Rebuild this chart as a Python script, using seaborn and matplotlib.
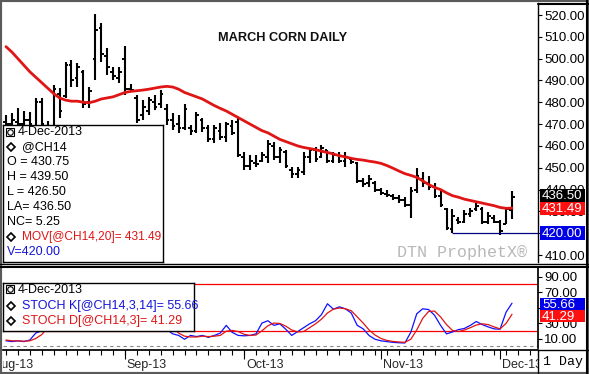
import matplotlib
matplotlib.use("Agg")
import matplotlib.pyplot as plt
import pandas as pd
import seaborn as sns
from matplotlib.lines import Line2D
from matplotlib.patches import Rectangle

# March corn (@CH14) daily bars, 5-Aug-2013 .. 4-Dec-2013
opens = [471, 470, 471, 470, 472, 469, 480, 469, 467, 484,
         483, 497, 491, 494, 480, 500, 514, 501, 494, 491,
         500, 486, 482, 474, 476, 480, 479, 477, 472, 470,
         468, 468, 467, 472, 468, 463, 467, 464, 469, 471,
         455, 451, 452, 453, 455, 460, 455, 457, 449, 447,
         448, 455, 458, 455, 458, 453, 456, 453, 454, 452,
         444, 443, 443, 440, 438, 437, 436, 435, 433, 440,
         445, 443, 441, 437, 431, 422, 426, 425, 429, 431,
         431, 425, 427, 425, 424, 430.75]
highs = [474, 475, 477.5, 476, 475.5, 482, 482, 471.5, 488, 486.5,
         498.5, 499.5, 498, 495, 487, 520.5, 516.5, 505, 496, 496,
         506, 488.5, 483.5, 481, 482.5, 483.5, 485.5, 479, 475, 474,
         479, 469.5, 475.5, 473, 469.5, 469.5, 470.5, 471, 472, 473,
         457, 456, 456, 457, 462.5, 462, 459.5, 458, 450.5, 450.5,
         457, 459, 459.5, 460.5, 458, 457, 457, 457, 454.5, 452.5,
         445.5, 446.5, 444, 440.5, 440, 438, 437.5, 436.5, 441, 450,
         448, 446, 443, 440, 431.5, 431, 427.5, 430.5, 431.5, 434,
         432, 429.5, 428.5, 426, 432, 439.5]
lows = [467, 466, 467, 467.5, 466, 467, 468, 464, 466.5, 473,
        482, 487, 487, 477.5, 477.5, 490, 498.5, 492.5, 490, 489,
        483.5, 484.5, 470.5, 472, 474, 476.5, 477.5, 469.5, 467.5, 466,
        467.5, 465, 466, 466.5, 462, 461.5, 462.5, 462, 465, 455,
        449, 449, 450.5, 452.5, 452, 453.5, 452, 450, 445.5, 445.5,
        446.5, 452, 452.5, 454.5, 452, 452, 452, 450.5, 451.5, 443,
        441, 441, 439, 437.5, 436.5, 435, 434, 432, 427, 438.5,
        441, 440, 436, 432, 421.5, 420, 424, 424.5, 427.5, 430,
        424, 424, 424.5, 419, 424, 426.5]
closes = [470, 472, 470, 472, 470, 480, 470, 467, 486, 476,
          497, 490, 496, 479, 485, 513, 502, 496, 492, 494,
          486, 485.5, 472, 478, 481, 478, 484, 472, 469, 468,
          477, 467, 474, 468, 463, 468, 464, 470, 466, 456,
          451, 453, 451.5, 456, 461, 455, 458, 451, 447, 449,
          455, 458, 454, 459, 453, 456, 453, 455, 452.5, 444,
          442.5, 445, 440, 438.5, 437.5, 436, 435, 433, 439.5, 446,
          443, 441, 437, 433, 422.5, 428, 425, 429, 430, 432.5,
          425, 428, 425, 421, 431, 436.5]
ma20 = [505.5, 503, 500, 497, 494, 491.5, 489, 486.5, 484, 482,
        481, 480.5, 480.5, 480, 479.8, 480.5, 481.5, 482, 482.5, 483.5,
        484.5, 485, 485.3, 485.6, 486, 486.5, 487, 487.3, 487, 486,
        484.5, 483.5, 482.5, 481.5, 480, 478.5, 477.2, 476, 474.5, 473,
        471.5, 470, 468.5, 467, 466, 464.5, 463, 462, 461, 460,
        459.3, 458.8, 458.3, 457.6, 457, 456.3, 455.5, 455, 454.3, 453.8,
        453.5, 453, 452.6, 452, 451, 449.8, 448.5, 447.3, 446.5, 445.6,
        444, 442.3, 441, 440, 438.5, 437.2, 436.5, 435.6, 435, 434.4,
        433.8, 433.2, 432.6, 431.8, 431.4, 431.49]
stoch_k = [7, 6, 7, 6, 8, 17, 20, 35, 48, 55,
           70, 78, 76, 62, 50, 78, 79, 66, 56, 54,
           60, 50, 38, 36, 38, 42, 36, 22, 16, 14,
           9, 14, 12.5, 14, 11.5, 14, 17, 27, 18, 14,
           13.5, 14, 16, 30, 33, 27, 29, 22, 14, 19,
           24, 29, 33, 41, 55, 48, 51, 48.5, 43, 27,
           22.5, 13.8, 9, 7, 6, 5, 4.5, 4.2, 18, 42,
           48.5, 47.5, 40, 27, 16, 18.5, 21.5, 23, 27, 32,
           28, 25, 22.5, 22, 44, 55.66]
stoch_d = [8, 7, 7, 6.5, 7, 10, 15, 24, 34, 46,
           58, 68, 75, 72, 63, 63, 69, 74, 67, 59,
           57, 55, 49, 41, 37, 39, 39, 33, 25, 17,
           13, 12, 12, 13, 12.5, 13, 14, 19.5, 20.5, 19,
           15.5, 14, 14.5, 20, 26.5, 30, 29.5, 26, 21, 18.5,
           19, 24, 29, 35, 43, 48, 49.5, 48.5, 46, 38,
           30, 21, 14.5, 10, 7.5, 6.2, 5.5, 5, 9, 21,
           36, 45, 45.5, 38, 28, 20.5, 19, 21, 24, 27.5,
           29, 28, 25, 22.5, 29.5, 41.29]

month_pos = [-2.4, 20, 40, 63, 83]
month_labels = ["Aug-13", "Sep-13", "Oct-13", "Nov-13", "Dec-13"]
price_ticks = [410, 420, 430, 440, 450, 460, 470, 480, 490, 500, 510, 520]
stoch_ticks = [10, 30, 50, 70, 90]
support_level = 420.0
support_start = 75

W, H = 589, 374
XLIM = (-0.5, 89.37)
RED = "#e01515"
BLUE = "#1414d8"

sns.set_theme(style="white")
plt.rcParams["font.family"] = ["Liberation Sans", "DejaVu Sans"]

fig = plt.figure(figsize=(W / 100, H / 100), dpi=100)
fig.patch.set_facecolor("white")


def px_axes(x0, y0, x1, y1, **kw):
    return fig.add_axes([x0 / W, 1 - y1 / H, (x1 - x0) / W, (y1 - y0) / H], **kw)


def fig_text(x, y, s, **kw):
    return fig.text(x / W, 1 - y / H, s, **kw)


def value_box(y0, y1, text, face):
    fig.add_artist(Rectangle((540 / W, 1 - y1 / H), 45 / W, (y1 - y0) / H,
                             transform=fig.transFigure, fc=face, ec="none", zorder=6))
    fig_text(542, (y0 + y1) / 2 + 0.5, text, color="white", fontsize=9.5,
             va="center", ha="left", zorder=7)


df = pd.DataFrame({"open": opens, "high": highs, "low": lows, "close": closes,
                   "ma": ma20, "k": stoch_k, "d": stoch_d})
df["i"] = df.index

# ---- price panel
ax = px_axes(3, 3, 538, 262)
ax.vlines(df["i"], df["low"], df["high"], color="black", lw=1.5)
ax.hlines(df["open"], df["i"] - 0.45, df["i"], color="black", lw=1.4)
ax.hlines(df["close"], df["i"], df["i"] + 0.45, color="black", lw=1.4)
sns.lineplot(data=df, x="i", y="ma", ax=ax, color=RED, linewidth=2.0)
ax.hlines(support_level, support_start, XLIM[1], color="#000080", lw=0.9)
ax.set_xlim(*XLIM)
ax.set_ylim(406.8, 525.5)
ax.set_xlabel("")
ax.set_ylabel("")
ax.set_xticks([])
ax.yaxis.tick_right()
ax.set_yticks(price_ticks)
ax.set_yticklabels([f"{v:.2f}" for v in price_ticks])
ax.tick_params(axis="y", right=True, direction="out", length=3, width=0.8,
               pad=1.5, labelsize=9.5, colors="black")
for side in ["left", "top", "bottom"]:
    ax.spines[side].set_visible(False)
ax.spines["right"].set_color("black")
ax.spines["right"].set_linewidth(1.0)

fig_text(283, 38, "MARCH CORN DAILY", ha="center", va="center",
         fontsize=9.2, fontweight="bold", color="#111111")
fig_text(462, 252, "DTN ProphetX\u00ae", ha="center", va="center", fontsize=12,
         family="Liberation Mono", color="#b8b8b8")

# price legend box
leg = px_axes(3, 125, 163, 262, zorder=5)
leg.set_xlim(3, 163)
leg.set_ylim(262, 125)
leg.set_xticks([])
leg.set_yticks([])
leg.set_facecolor("white")
for s in leg.spines.values():
    s.set_color("black")
    s.set_linewidth(1.0)
leg.add_patch(Rectangle((5.5, 127.5), 8, 8, fill=False, ec="black", lw=0.8))
leg.plot([9.5], [131.5], marker="o", ms=4, mfc="none", mec="black", mew=0.8)
leg.text(18, 132, "4-Dec-2013", fontsize=9, va="center", color="black")
leg.plot([11], [147], marker="D", ms=4.5, mfc="white", mec="black", mew=1.2)
leg.text(22, 147, "@CH14", fontsize=9, va="center", color="black")
legend_rows = ["O = 430.75", "H = 439.50", "L = 426.50", "LA= 436.50", "NC= 5.25"]
for k, row in enumerate(legend_rows):
    leg.text(7, 162 + 15 * k, row, fontsize=9, va="center", color="black")
leg.plot([11], [237], marker="D", ms=4.5, mfc="white", mec="black", mew=1.2)
leg.text(22, 237, "MOV[@CH14,20]= 431.49", fontsize=8.6, va="center", color=RED)
leg.text(7, 252, "V=420.00", fontsize=9, va="center", color=BLUE)

value_box(189, 202, "436.50", "black")
value_box(202, 215, "431.49", "#ff1010")
value_box(226, 240, "420.00", "#0000e6")

# ---- stochastic panel
sx = px_axes(3, 268, 538, 348)
sx.axhline(80, color="#ff0000", lw=0.9)
sx.axhline(20, color="#ff0000", lw=0.9)
sx.axhline(0, color="#888888", lw=0.8, ls=(0, (3, 3)))
sns.lineplot(data=df, x="i", y="k", ax=sx, color="#1010ff", linewidth=0.9)
sns.lineplot(data=df, x="i", y="d", ax=sx, color=RED, linewidth=0.9)
sx.set_xlim(*XLIM)
sx.set_ylim(-2.3, 101.3)
sx.set_xlabel("")
sx.set_ylabel("")
sx.set_xticks([])
sx.yaxis.tick_right()
sx.set_yticks(stoch_ticks)
sx.set_yticklabels([f"{v:.2f}" for v in stoch_ticks])
sx.tick_params(axis="y", right=True, direction="out", length=3, width=0.8,
               pad=1.5, labelsize=9.5, colors="black")
for side in ["left", "top", "bottom"]:
    sx.spines[side].set_visible(False)
sx.spines["right"].set_color("black")

sleg = px_axes(3, 283, 194, 331, zorder=5)
sleg.set_xlim(3, 194)
sleg.set_ylim(331, 283)
sleg.set_xticks([])
sleg.set_yticks([])
sleg.set_facecolor("white")
for s in sleg.spines.values():
    s.set_color("black")
    s.set_linewidth(1.0)
sleg.add_patch(Rectangle((5.5, 285.5), 8, 8, fill=False, ec="black", lw=0.8))
sleg.plot([9.5], [289.5], marker="o", ms=4, mfc="none", mec="black", mew=0.8)
sleg.text(18, 290, "4-Dec-2013", fontsize=9, va="center", color="black")
sleg.plot([11], [306], marker="D", ms=4.5, mfc="white", mec="black", mew=1.2)
sleg.text(22, 306, "STOCH K[@CH14,3,14]= 55.66", fontsize=9, va="center", color=BLUE)
sleg.plot([11], [321], marker="D", ms=4.5, mfc="white", mec="black", mew=1.2)
sleg.text(22, 321, "STOCH D[@CH14,3]= 41.29", fontsize=9, va="center", color=RED)

value_box(298, 310, "55.66", "#0000e6")
value_box(310, 322, "41.29", "#ff1010")

# ---- date strip
tx = px_axes(3, 350, 538, 372)
tx.set_xlim(*XLIM)
tx.set_ylim(0, 1)
tx.set_xticks([])
tx.set_yticks([])
for side in ["left", "right", "bottom"]:
    tx.spines[side].set_visible(False)
tx.spines["top"].set_color("black")
minor_pos = list(range(-2, 90, 2))
tx.vlines(minor_pos, 0.78, 1, color="black", lw=0.8)
tx.vlines(month_pos, 0.6, 1, color="black", lw=0.8)
for pos, lab in zip(month_pos, month_labels):
    tx.text(pos + 0.3, 0.33, lab, ha="left", va="center", fontsize=9, clip_on=True)

fig.add_artist(Line2D([538 / W, 538 / W], [1 - 373 / H, 1 - 350 / H], color="black", lw=1))
fig.add_artist(Line2D([538 / W, 1], [1 - 350 / H] * 2, color="black", lw=1))
fig_text(563, 362, "1 Day", ha="center", va="center", fontsize=9.5,
         family="Liberation Mono", color="black")

# separators and frame
fig.add_artist(Line2D([0, 1], [1 - 263.5 / H] * 2, color="black", lw=1.0))
fig.add_artist(Line2D([0, 1], [1 - 267 / H] * 2, color="black", lw=1.5))
fig.add_artist(Line2D([538 / W, 1], [1 - 4 / H] * 2, color="black", lw=1.5))
fig.add_artist(Line2D([586.5 / W] * 2, [0, 1], color="black", lw=1.5))
fig.add_artist(Rectangle((0, 0), 1, 1, transform=fig.transFigure, fill=False,
                         ec="#5a5a5a", lw=3))

fig.savefig("out.png", dpi=100)
